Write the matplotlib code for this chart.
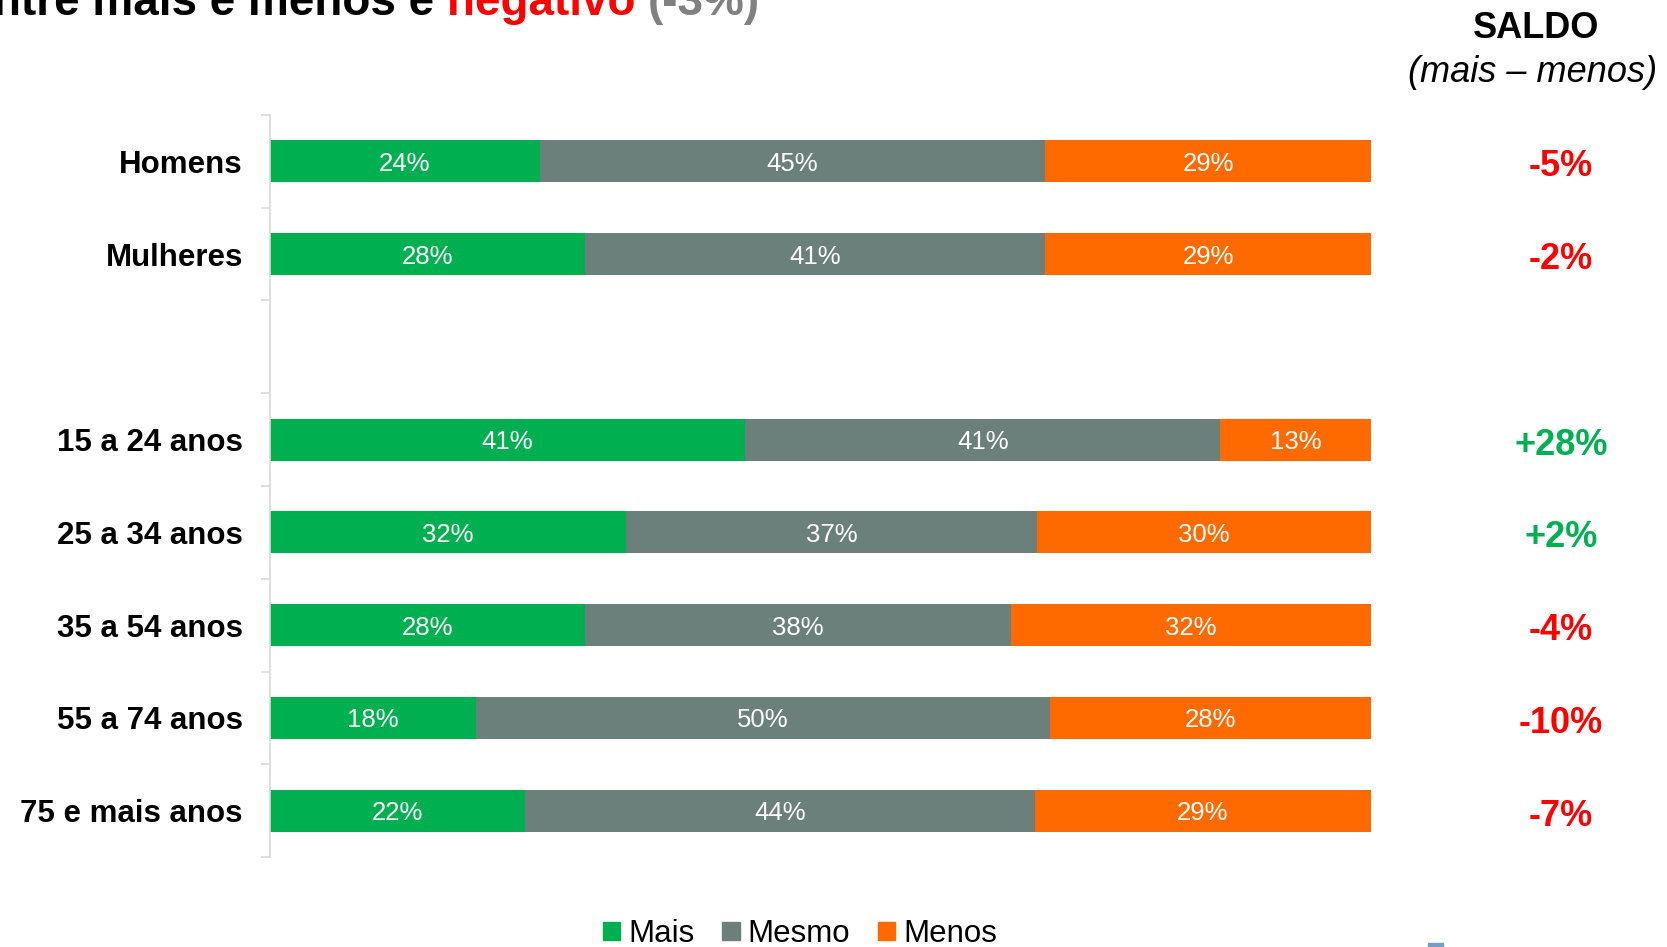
import numpy as np
import matplotlib
matplotlib.use("Agg")
import matplotlib.pyplot as plt
from matplotlib.patches import Patch, Rectangle
from matplotlib.transforms import blended_transform_factory

plt.rcParams['font.family'] = ['Liberation Sans', 'DejaVu Sans']

# dados
grupos = ["Homens", "Mulheres", "15 a 24 anos", "25 a 34 anos",
          "35 a 54 anos", "55 a 74 anos", "75 e mais anos"]
mais = [24, 28, 41, 32, 28, 18, 22]
mesmo = [45, 41, 41, 37, 38, 50, 44]
menos = [29, 29, 13, 30, 32, 28, 29]
saldo = [-5, -2, 28, 2, -4, -10, -7]
series = ["Mais", "Mesmo", "Menos"]

titulo = [("Saldo entre mais e menos é ", "black"),
          ("negativo ", "#ff0000"),
          ("(-3%)", "#808080")]

cores = ["#00b050", "#6b7f7b", "#ff6a00"]
W, H = 1667, 947

fig = plt.figure(figsize=(W / 100, H / 100), dpi=100)
ax = fig.add_axes([270 / W, 90 / H, 1101 / W, 742 / H])

# linha vazia entre sexo e idade
ypos = [0, 1] + list(range(3, 3 + len(grupos) - 2))

vals = np.array([mais, mesmo, menos], dtype=float)
tot = vals.sum(axis=0)
frac = vals / tot * 100

left = np.zeros(len(grupos))
for k in range(3):
    ax.barh(ypos, frac[k], left=left, height=0.453, color=cores[k],
            edgecolor='none', label=series[k])
    for i, y in enumerate(ypos):
        ax.text(left[i] + frac[k][i] / 2, y, f"{int(vals[k][i])}%",
                ha='center', va='center_baseline', color='white', fontsize=18.5)
    left += frac[k]

ax.set_xlim(0, 100)
ax.set_ylim(7.5, -0.5)
ax.set_xticks([])
ax.set_yticks(np.arange(-0.5, 8, 1))
ax.set_yticklabels([])
ax.tick_params(axis='y', which='major', length=6.5, color='#d9d9d9', width=1.2)
ax.set_yticks(ypos, minor=True)
ax.set_yticklabels(grupos, minor=True, fontsize=22.5, fontweight='bold')
ax.tick_params(axis='y', which='minor', length=0, pad=19.5)
for s in ['top', 'right', 'bottom']:
    ax.spines[s].set_visible(False)
ax.spines['left'].set_color('#d9d9d9')
ax.spines['left'].set_linewidth(1.2)

# saldo
trans = blended_transform_factory(ax.transAxes, ax.transData)
for y, s in zip(ypos, saldo):
    cor = "#00b050" if s > 0 else "#ff0000"
    ax.text(1.1726, y + 0.015, f"{s:+d}%", transform=trans, ha='center',
            va='center_baseline', color=cor, fontsize=26, fontweight='bold')

fig.text(1536 / W, 1 - 28 / H, "SALDO", ha='center', va='center',
         fontsize=26, fontweight='bold')
fig.text(1533 / W, 1 - 72 / H, "(mais – menos)", ha='center', va='center',
         fontsize=26, fontstyle='italic')

# legenda
handles = [Patch(color=c, label=l) for c, l in zip(cores, series)]
fig.legend(handles=handles, loc='center', bbox_to_anchor=(800 / W, 1 - 934 / H),
           ncol=3, frameon=False, fontsize=22.5, handlelength=0.55,
           handleheight=0.55, handletextpad=0.25, columnspacing=0.9)

# titulo cortado no topo
fig.canvas.draw()
r = fig.canvas.get_renderer()
x = 760
for txt, c in reversed(titulo):
    t = fig.text(0, 1 - 15 / H, txt, ha='left', va='baseline', color=c,
                 fontsize=33, fontweight='bold')
    w = t.get_window_extent(r).width
    x -= w
    t.set_position((x / W, 1 - 15 / H))

fig.add_artist(Rectangle((1428 / W, 0), 15 / W, 4 / H, transform=fig.transFigure,
                         color='#7a9cc0'))

fig.savefig("out.png", dpi=100)
